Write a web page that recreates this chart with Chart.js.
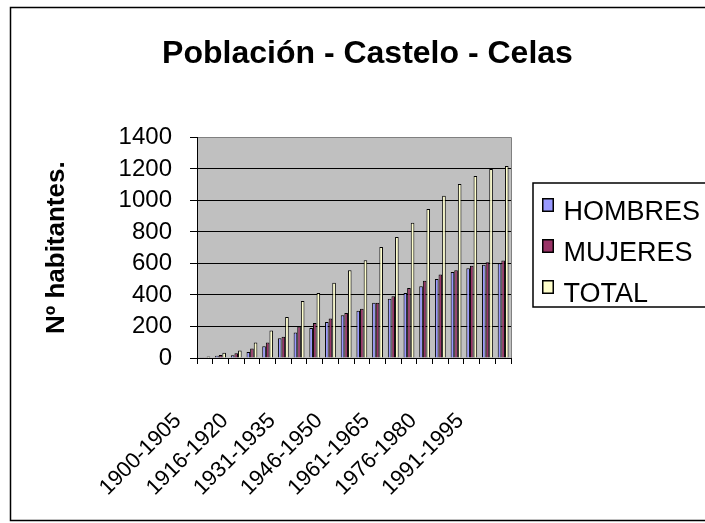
<!DOCTYPE html>
<html>
<head>
<meta charset="utf-8">
<script src="https://cdn.jsdelivr.net/npm/chart.js@4/dist/chart.umd.min.js"></script>
<style>
html, body { margin: 0; padding: 0; background: #fff; }
#wrap { width: 705px; height: 523px; position: relative; overflow: hidden; }
canvas { display: block; }
</style>
</head>
<body>
<div id="wrap"><canvas id="c" width="705" height="523"></canvas></div>
<script>
// ---- data ----
const categories = [
  '1900-1905', '1906-1910', '1911-1915', '1916-1920', '1921-1925',
  '1926-1930', '1931-1935', '1936-1940', '1941-1945', '1946-1950',
  '1951-1955', '1956-1960', '1961-1965', '1966-1970', '1971-1975',
  '1976-1980', '1981-1985', '1986-1990', '1991-1995', '1996-2000'
];
const hombres = [4, 15, 18, 38, 75, 125, 162, 190, 228, 272, 300, 350, 376, 413, 455, 502, 545, 570, 592, 602];
const mujeres = [5, 19, 30, 60, 98, 135, 200, 222, 250, 285, 312, 350, 392, 445, 490, 530, 557, 585, 608, 618];
const total   = [9, 34, 48, 98, 174, 260, 362, 412, 478, 557, 620, 705, 768, 858, 945, 1030, 1105, 1155, 1200, 1218];
const yTicks = [0, 200, 400, 600, 800, 1000, 1200, 1400];
const seriesNames = ['HOMBRES', 'MUJERES', 'TOTAL'];
const chartTitle = 'Población - Castelo - Celas';
const yAxisTitle = 'Nº habitantes.';

// ---- styles ----
const colors = ['#9999FF', '#993366', '#FFFFCC'];
const FONT = '"Liberation Sans", Arial, Helvetica, sans-serif';

function swatch(color) {
  const c = document.createElement('canvas');
  c.width = 12; c.height = 30;
  const g = c.getContext('2d');
  g.fillStyle = color;
  g.fillRect(1, 1, 10, 12);
  g.strokeStyle = '#000';
  g.lineWidth = 1.5;
  g.strokeRect(0.75, 0.75, 10.5, 12.5);
  return c;
}

const seriesData = [hombres, mujeres, total];
const datasets = seriesNames.map((name, i) => ({
  label: name,
  data: seriesData[i],
  backgroundColor: colors[i],
  borderColor: '#000',
  borderWidth: 1,
  categoryPercentage: 0.69,
  barPercentage: 1.0,
  pointStyle: swatch(colors[i])
}));

const decor = {
  id: 'decor',
  beforeDraw(chart) {
    const { ctx, chartArea: a } = chart;
    ctx.save();
    ctx.fillStyle = '#C0C0C0';
    ctx.fillRect(a.left, a.top, a.right - a.left, a.bottom - a.top);
    ctx.strokeStyle = '#808080';
    ctx.lineWidth = 1;
    ctx.beginPath();
    ctx.moveTo(a.left, Math.round(a.top) + 0.5);
    ctx.lineTo(Math.round(a.right) + 0.5, Math.round(a.top) + 0.5);
    ctx.lineTo(Math.round(a.right) + 0.5, a.bottom);
    ctx.stroke();
    ctx.restore();
    // place legend like the original frame
    const lg = chart.legend;
    lg.left = a.right + 21;
    lg.right = lg.left + 400;
    const dy = 185.5 - lg.top;
    lg.top += dy; lg.bottom += dy;
    // centre title like the original
    const tb = chart.titleBlock;
    if (tb) {
      const shift = 367.5 - (tb.left + tb.right) / 2;
      tb.left += shift; tb.right += shift;
    }
  },
  afterDraw(chart) {
    const { ctx } = chart;
    const lg = chart.legend;
    ctx.save();
    ctx.strokeStyle = '#000';
    ctx.lineWidth = 1.5;
    ctx.strokeRect(lg.left + 1, lg.top - 2.5, 400, 124);
    ctx.strokeRect(10.5, 7.5, 800, 513);
    ctx.restore();
  }
};

new Chart(document.getElementById('c'), {
  type: 'bar',
  data: { labels: categories, datasets },
  plugins: [decor],
  options: {
    responsive: false,
    animation: false,
    devicePixelRatio: 1,
    layout: { padding: { left: 40, top: 0, right: 37, bottom: 18 } },
    plugins: {
      title: {
        display: true,
        text: chartTitle,
        color: '#000',
        font: { family: FONT, size: 32, weight: 'bold' },
        padding: { top: 35, bottom: 64 }
      },
      legend: {
        display: true,
        position: 'right',
        align: 'start',
        labels: {
          usePointStyle: true,
          pointStyleWidth: 4,
          color: '#000',
          padding: 14,
          font: { family: FONT, size: 27 }
        }
      },
      tooltip: { enabled: false }
    },
    scales: {
      x: {
        offset: true,
        afterFit: (s) => { s.height = 147; },
        grid: { offset: true, drawOnChartArea: false, tickLength: 6, color: '#000', lineWidth: 1 },
        border: { color: '#000', width: 1 },
        ticks: {
          autoSkip: false,
          minRotation: 45,
          maxRotation: 45,
          labelOffset: -27,
          padding: 44,
          color: '#000',
          font: { family: FONT, size: 22 },
          callback: function (v, i) { return i % 3 === 0 ? categories[i] : ''; }
        }
      },
      y: {
        min: 0,
        max: 1400,
        afterBuildTicks: (s) => { s.ticks = yTicks.map(v => ({ value: v })); },
        grid: {
          color: (c) => (c.tick && c.tick.value === 1400 ? '#808080' : '#000'),
          tickColor: '#000',
          lineWidth: 1,
          tickLength: 7
        },
        border: { color: '#000', width: 1 },
        ticks: {
          autoSkip: false,
          stepSize: 200,
          color: '#000',
          padding: 18,
          font: { family: FONT, size: 24 },
          callback: (v) => String(v)
        },
        title: {
          display: true,
          text: yAxisTitle,
          color: '#000',
          font: { family: FONT, size: 26, weight: 'bold' },
          padding: { top: 1, bottom: 50 }
        }
      }
    }
  }
});
</script>
</body>
</html>
